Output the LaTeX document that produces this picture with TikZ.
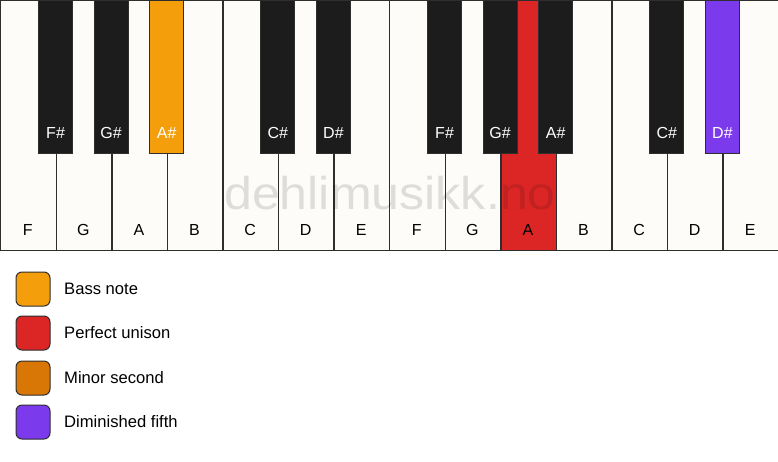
\documentclass[tikz,border=0pt]{standalone}
\usepackage{fontspec}
\setmainfont{Liberation Sans}
\definecolor{ivory}{HTML}{FDFCF9}
\definecolor{keyblack}{HTML}{1C1C1C}
\definecolor{edge}{HTML}{2E2E2E}
\definecolor{bassc}{HTML}{F59E0B}
\definecolor{unisc}{HTML}{DC2626}
\definecolor{minc}{HTML}{D97706}
\definecolor{dimc}{HTML}{7C3AED}
\tikzset{
  whitekey/.style={draw=edge, line width=1.4pt, fill=ivory, minimum width=55.571pt, minimum height=250pt, inner sep=0pt, anchor=north west},
  blackkey/.style={draw=edge, line width=1pt, fill=keyblack, minimum width=34pt, minimum height=153pt, inner sep=0pt, anchor=north},
  wlabel/.style={font=\fontsize{16}{16}\selectfont, text=black},
  blabel/.style={font=\fontsize{16}{16}\selectfont, text=white},
  legbox/.style={draw=edge, line width=1pt, rounded corners=6pt, minimum width=34pt, minimum height=34pt, inner sep=0pt},
  legtext/.style={font=\fontsize{16.6}{16.6}\selectfont, anchor=west, inner sep=0pt},
}
\begin{document}
\begin{tikzpicture}[x=1pt,y=-1pt]
\useasboundingbox (0,0) rectangle (778,461);
\fill[white] (0,0) rectangle (778,461);
% white keys
\foreach \n/\i/\c in {F/0/ivory,G/1/ivory,A/2/ivory,B/3/ivory,C/4/ivory,D/5/ivory,E/6/ivory,F/7/ivory,G/8/ivory,A/9/unisc,B/10/ivory,C/11/ivory,D/12/ivory,E/13/ivory}{
  \node[whitekey, fill=\c] (w\i) at ({\i*55.571},0) {};
  \node[wlabel] (wl\i) at ({(\i+0.5)*55.571},230) {\n};
}
% black keys
\foreach \n/\i/\c in {F\#/1/keyblack,G\#/2/keyblack,A\#/3/bassc,C\#/5/keyblack,D\#/6/keyblack,F\#/8/keyblack,G\#/9/keyblack,A\#/10/keyblack,C\#/12/keyblack,D\#/13/dimc}{
  \node[blackkey, fill=\c] (b\i) at ({\i*55.571},0) {};
  \node[blabel] (bl\i) at ({\i*55.571},133) {\n};
}
% watermark
\node[text=black, opacity=0.12, font=\fontsize{46}{46}\selectfont, xscale=1.09, inner sep=0pt] (wm) at (390,193) {dehlimusikk.no};
% legend
\foreach \t/\y/\c [count=\k] in {Bass note/289/bassc,Perfect unison/333/unisc,Minor second/378/minc,Diminished fifth/422/dimc}{
  \node[legbox, fill=\c] (lb\k) at (33,\y) {};
  \node[legtext] (lt\k) at (64,\y) {\t};
}
\end{tikzpicture}
\end{document}
